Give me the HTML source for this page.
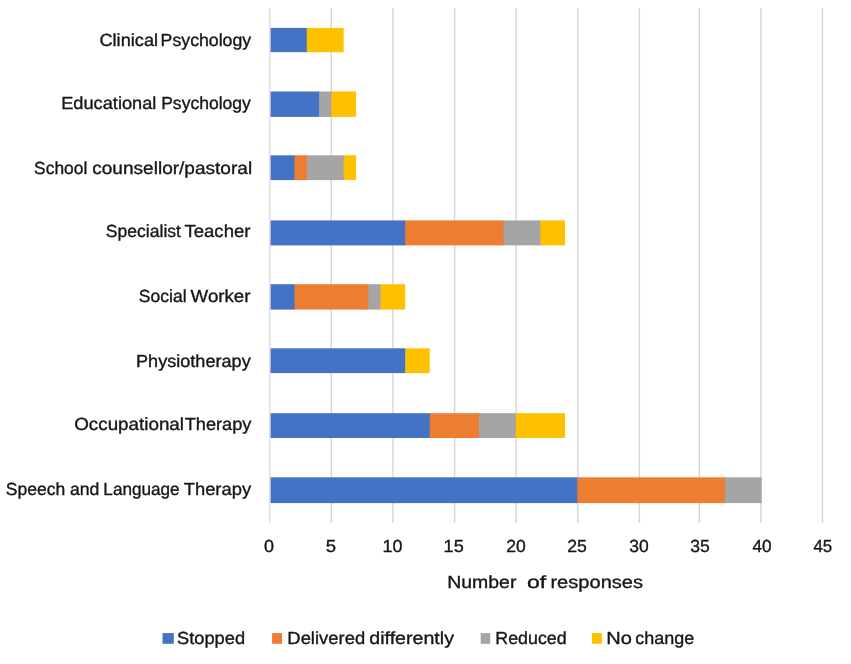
<!DOCTYPE html>
<html lang="en">
<head>
<meta charset="utf-8">
<title>Number of responses by service</title>
<style>
html,body{margin:0;padding:0;background:#fff;}
body{width:851px;height:664px;overflow:hidden;}
svg{display:block;}
text{font-family:"Liberation Sans",Arial,sans-serif;font-size:17.5px;fill:#161616;stroke:#161616;stroke-width:0.35px;text-rendering:geometricPrecision;white-space:pre;}
</style>
</head>
<body>
<svg width="851" height="664" viewBox="0 0 851 664">
<rect x="0" y="0" width="851" height="664" fill="#ffffff"/>
<g stroke="#d6d6d6" stroke-width="1.4" fill="none">
<line x1="269.80" y1="8.0" x2="269.80" y2="523.0" stroke-width="1.2"/>
<line x1="331.30" y1="8.0" x2="331.30" y2="523.0"/>
<line x1="392.90" y1="8.0" x2="392.90" y2="523.0"/>
<line x1="454.55" y1="8.0" x2="454.55" y2="523.0"/>
<line x1="516.15" y1="8.0" x2="516.15" y2="523.0"/>
<line x1="577.85" y1="8.0" x2="577.85" y2="523.0"/>
<line x1="639.40" y1="8.0" x2="639.40" y2="523.0"/>
<line x1="699.30" y1="8.0" x2="699.30" y2="523.0"/>
<line x1="760.95" y1="8.0" x2="760.95" y2="523.0"/>
<line x1="822.40" y1="8.0" x2="822.40" y2="523.0"/>
</g>
<g>
<rect x="305.78" y="27.90" width="37.88" height="24.30" fill="#FFC000"/>
<rect x="270.60" y="27.90" width="36.18" height="24.30" fill="#4472C4"/>
<rect x="330.38" y="91.50" width="25.59" height="25.40" fill="#FFC000"/>
<rect x="318.08" y="91.50" width="13.30" height="25.40" fill="#A5A5A5"/>
<rect x="270.60" y="91.50" width="48.48" height="25.40" fill="#4472C4"/>
<rect x="342.67" y="155.30" width="13.30" height="24.80" fill="#FFC000"/>
<rect x="305.78" y="155.30" width="37.88" height="24.80" fill="#A5A5A5"/>
<rect x="293.49" y="155.30" width="13.30" height="24.80" fill="#ED7D31"/>
<rect x="270.60" y="155.30" width="23.89" height="24.80" fill="#4472C4"/>
<rect x="539.39" y="220.40" width="25.59" height="25.00" fill="#FFC000"/>
<rect x="502.50" y="220.40" width="37.88" height="25.00" fill="#A5A5A5"/>
<rect x="404.14" y="220.40" width="99.36" height="25.00" fill="#ED7D31"/>
<rect x="270.60" y="220.40" width="134.54" height="25.00" fill="#4472C4"/>
<rect x="379.55" y="284.20" width="25.59" height="25.40" fill="#FFC000"/>
<rect x="367.26" y="284.20" width="13.29" height="25.40" fill="#A5A5A5"/>
<rect x="293.49" y="284.20" width="74.77" height="25.40" fill="#ED7D31"/>
<rect x="270.60" y="284.20" width="23.89" height="25.40" fill="#4472C4"/>
<rect x="404.14" y="348.30" width="25.59" height="24.80" fill="#FFC000"/>
<rect x="270.60" y="348.30" width="134.54" height="24.80" fill="#4472C4"/>
<rect x="514.80" y="413.20" width="50.18" height="24.80" fill="#FFC000"/>
<rect x="477.91" y="413.20" width="37.88" height="24.80" fill="#A5A5A5"/>
<rect x="428.74" y="413.20" width="50.18" height="24.80" fill="#ED7D31"/>
<rect x="270.60" y="413.20" width="159.13" height="24.80" fill="#4472C4"/>
<rect x="723.82" y="477.30" width="37.88" height="25.80" fill="#A5A5A5"/>
<rect x="576.27" y="477.30" width="148.54" height="25.80" fill="#ED7D31"/>
<rect x="270.60" y="477.30" width="306.67" height="25.80" fill="#4472C4"/>
</g>
<rect x="162.5" y="633.1" width="11.3" height="10.7" fill="#4472C4"/>
<rect x="272.1" y="633.1" width="9.9" height="10.7" fill="#ED7D31"/>
<rect x="480.7" y="633.1" width="9.5" height="10.7" fill="#A5A5A5"/>
<rect x="591.9" y="633.1" width="10.0" height="10.7" fill="#FFC000"/>
<text y="45.60"><tspan x="99.42" textLength="58.72" lengthAdjust="spacingAndGlyphs">Clinical</tspan> <tspan x="160.61" textLength="90.56" lengthAdjust="spacingAndGlyphs">Psychology</tspan></text>
<text y="108.95"><tspan x="61.20" textLength="95.24" lengthAdjust="spacingAndGlyphs">Educational</tspan> <tspan x="161.16" textLength="89.71" lengthAdjust="spacingAndGlyphs">Psychology</tspan></text>
<text y="173.55"><tspan x="34.11" textLength="53.17" lengthAdjust="spacingAndGlyphs">School</tspan> <tspan x="92.25" textLength="159.86" lengthAdjust="spacingAndGlyphs">counsellor/pastoral</tspan></text>
<text y="236.65"><tspan x="105.79" textLength="75.21" lengthAdjust="spacingAndGlyphs">Specialist</tspan> <tspan x="184.44" textLength="66.02" lengthAdjust="spacingAndGlyphs">Teacher</tspan></text>
<text y="301.55"><tspan x="138.87" textLength="47.68" lengthAdjust="spacingAndGlyphs">Social</tspan> <tspan x="190.59" textLength="59.90" lengthAdjust="spacingAndGlyphs">Worker</tspan></text>
<text y="367.00"><tspan x="136.05" textLength="114.64" lengthAdjust="spacingAndGlyphs">Physiotherapy</tspan></text>
<text y="429.85"><tspan x="74.20" textLength="109.82" lengthAdjust="spacingAndGlyphs">Occupational</tspan> <tspan x="184.71" textLength="66.75" lengthAdjust="spacingAndGlyphs">Therapy</tspan></text>
<text y="494.65"><tspan x="5.84" textLength="59.51" lengthAdjust="spacingAndGlyphs">Speech</tspan> <tspan x="69.94" textLength="29.47" lengthAdjust="spacingAndGlyphs">and</tspan> <tspan x="103.36" textLength="76.28" lengthAdjust="spacingAndGlyphs">Language</tspan> <tspan x="183.72" textLength="67.35" lengthAdjust="spacingAndGlyphs">Therapy</tspan></text>
<text y="587.90"><tspan x="447.23" textLength="69.17" lengthAdjust="spacingAndGlyphs">Number</tspan>  <tspan x="526.98" textLength="19.23" lengthAdjust="spacingAndGlyphs">of</tspan> <tspan x="550.44" textLength="92.59" lengthAdjust="spacingAndGlyphs">responses</tspan></text>
<text y="643.90"><tspan x="176.99" textLength="68.08" lengthAdjust="spacingAndGlyphs">Stopped</tspan></text>
<text y="643.90"><tspan x="287.34" textLength="77.81" lengthAdjust="spacingAndGlyphs">Delivered</tspan> <tspan x="369.27" textLength="84.71" lengthAdjust="spacingAndGlyphs">differently</tspan></text>
<text y="643.90"><tspan x="495.30" textLength="71.39" lengthAdjust="spacingAndGlyphs">Reduced</tspan></text>
<text y="643.90"><tspan x="606.31" textLength="25.59" lengthAdjust="spacingAndGlyphs">No</tspan> <tspan x="635.22" textLength="59.01" lengthAdjust="spacingAndGlyphs">change</tspan></text>
<text y="552.00"><tspan x="264.07" textLength="9.97" lengthAdjust="spacingAndGlyphs">0</tspan></text>
<text y="552.00"><tspan x="325.88" textLength="10.31" lengthAdjust="spacingAndGlyphs">5</tspan></text>
<text y="552.00"><tspan x="382.61" textLength="19.93" lengthAdjust="spacingAndGlyphs">10</tspan></text>
<text y="552.00"><tspan x="443.62" textLength="20.16" lengthAdjust="spacingAndGlyphs">15</tspan></text>
<text y="552.00"><tspan x="506.15" textLength="19.54" lengthAdjust="spacingAndGlyphs">20</tspan></text>
<text y="552.00"><tspan x="567.25" textLength="19.62" lengthAdjust="spacingAndGlyphs">25</tspan></text>
<text y="552.00"><tspan x="629.21" textLength="19.43" lengthAdjust="spacingAndGlyphs">30</tspan></text>
<text y="552.00"><tspan x="690.31" textLength="19.55" lengthAdjust="spacingAndGlyphs">35</tspan></text>
<text y="552.00"><tspan x="752.50" textLength="19.07" lengthAdjust="spacingAndGlyphs">40</tspan></text>
<text y="552.00"><tspan x="813.48" textLength="18.79" lengthAdjust="spacingAndGlyphs">45</tspan></text>
</svg>
</body>
</html>
